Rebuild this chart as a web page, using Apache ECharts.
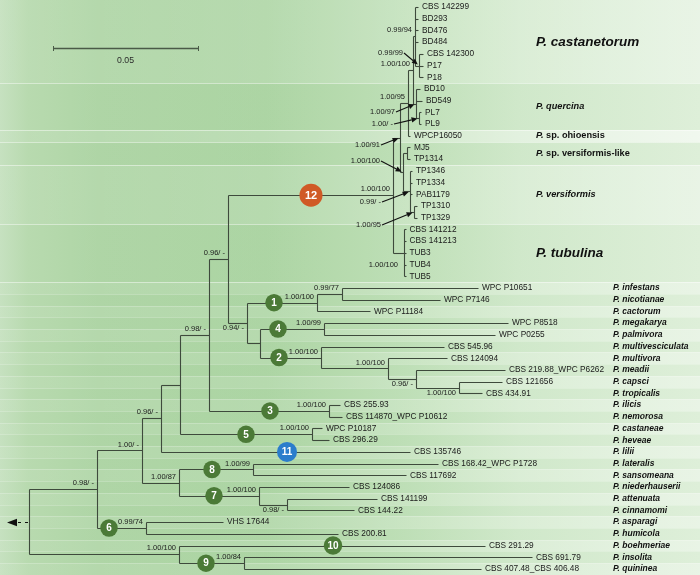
<!DOCTYPE html>
<html><head><meta charset="utf-8">
<script src="https://cdn.jsdelivr.net/npm/echarts@6/dist/echarts.min.js"></script>
<style>html,body{margin:0;padding:0;background:#fff}#c{width:700px;height:575px}</style>
</head><body><div id="c"></div>
<script>
// ---------------- DATA ----------------
const leafNames = ['CBS 142299','BD293','BD476','BD484','CBS 142300','P17','P18','BD10','BD549','PL7','PL9','WPCP16050','MJ5','TP1314','TP1346','TP1334','PAB1179','TP1310','TP1329','CBS 141212','CBS 141213','TUB3','TUB4','TUB5','WPC P10651','WPC P7146','WPC P11184','WPC P8518','WPC P0255','CBS 545.96','CBS 124094','CBS 219.88_WPC P6262','CBS 121656','CBS 434.91','CBS 255.93','CBS 114870_WPC P10612','WPC P10187','CBS 296.29','CBS 135746','CBS 168.42_WPC P1728','CBS 117692','CBS 124086','CBS 141199','CBS 144.22','VHS 17644','CBS 200.81','CBS 291.29','CBS 691.79','CBS 407.48_CBS 406.48'];
const leafParents = ['P','P','P','P','R','R','R','U','U','T','T','W','X','X','Y','Y','Y','Z','Z','Tub','Tub','Tub','Tub','Tub','N1a','N1a','N1','N4','N4','N2','N2a','N2b','N2c','N2c','N3','N3','N5','N5','C','N8','N8','N7','N7a','N7a','N6','N6','J','N9','N9'];
const leafDepths = [0.13414,0.13414,0.13414,0.13414,0.13586,0.13586,0.13586,0.13483,0.13552,0.13517,0.13517,0.13138,0.13138,0.13138,0.13207,0.13207,0.13207,0.13379,0.13379,0.12983,0.12983,0.12983,0.12983,0.12983,0.15483,0.14172,0.11759,0.16517,0.16069,0.14310,0.14414,0.16414,0.16310,0.15621,0.10724,0.10793,0.10103,0.10345,0.13138,0.14103,0.13000,0.11034,0.12000,0.11207,0.06690,0.10655,0.15724,0.17345,0.15586];

const nodeIds = ['root','A','J','B','N6','C','I','D','E','N5','F','N3','K','G','M','Tub','W','O','V','P','R','U','T','X','Y','Z','N1','N1a','H','N4','N2','N2a','N2b','N2c','N8','N7','N7a','N9'];
const nodeParents = [null,'root','root','A','A','B','B','C','D','D','E','E','F','F','K','K','M','M','W','V','P','V','U','O','O','Y','G','N1','G','H','H','N2','N2a','N2b','I','I','N7','J'];
const nodeDepths = [0,0.02345,0.05172,0.03897,0.04034,0.04552,0.05172,0.05207,0.06207,0.09759,0.06862,0.10345,0.12552,0.07517,0.12793,0.12931,0.13069,0.12897,0.13241,0.13310,0.13448,0.13345,0.13448,0.13034,0.13138,0.13276,0.09931,0.10793,0.07966,0.10172,0.10069,0.12379,0.13345,0.14828,0.07724,0.07931,0.08897,0.07414];

const supportNodes = ['A','B','C','E','F','G','N1','N1a','N4','N2','N2a','N2b','N2c','N3','N5','I','N8','N7','N7a','N6','J','N9','K','P','V','W'];
const supportTexts = ['0.98/ -','1.00/ -','0.96/ -','0.98/ -','0.96/ -','0.94/ -','1.00/100','0.99/77','1.00/99','1.00/100','1.00/100','0.96/ -','1.00/100','1.00/100','1.00/100','1.00/87','1.00/99','1.00/100','0.98/ -','0.99/74','1.00/100','1.00/84','1.00/100','0.99/94','1.00/100','1.00/95'];
const supportSide = ['a','a','a','a','a','b','a','a','a','a','a','b','b','a','a','a','a','a','b','a','a','a','a','a','a','a'];

const arrowNodes = ['R','U','T','M','O','Y','Z'];
const arrowTexts = ['0.99/99','1.00/97','1.00/ -','1.00/91','1.00/100','0.99/ -','1.00/95'];
const arrowTailDepths = [0.12931,0.12655,0.12586,0.12138,0.12138,0.12172,0.12172];
const arrowTailRows = [3.93,8.97,9.99,11.79,13.15,16.66,18.62];

const freeTexts = ['1.00/100'];
const freeDepths = [0.12724];
const freeRows = [22.04];

const cladeLabels = ['1','2','3','4','5','6','7','8','9','10','11','12'];
const cladeBranches = ['N1','N2','N3','N4','N5','N6','N7','N8','N9','CBS 291.29','CBS 135746','K'];
const cladeDepths = [0.08448,0.08621,0.08310,0.08586,0.07483,0.02759,0.06379,0.06310,0.06103,0.10483,0.08897,0.09724];

const speciesRows = [24,25,26,27,28,29,30,31,32,33,34,35,36,37,38,39,40,41,42,43,44,45,46,47,48];
const speciesNames = ['P. infestans','P. nicotianae','P. cactorum','P. megakarya','P. palmivora','P. multivesciculata','P. multivora','P. meadii','P. capsci','P. tropicalis','P. ilicis','P. nemorosa','P. castaneae','P. heveae','P. lilii','P. lateralis','P. sansomeana','P. niederhauserii','P. attenuata','P. cinnamomi','P. asparagi','P. humicola','P. boehmeriae','P. insolita','P. quininea'];

const groupEpithets = ['castanetorum','quercina','sp. ohioensis','sp. versiformis-like','versiformis','tubulina'];
const groupFirstRows = [0,7,11,12,14,19];
const groupLastRows = [6,10,11,13,18,23];

const bandFirstRows = [0,7,11,12,14,19,24,25,26,27,28,29,30,31,32,33,34,35,36,37,38,39,40,41,42,43,44,45,46,47,48];
const bandLastRows  = [6,10,11,13,18,23,24,25,26,27,28,29,30,31,32,33,34,35,36,37,38,39,40,41,42,43,44,45,46,47,48];
const bandTones     = [1,0,2,0,1,0,1,0,1,0,1,0,1,0,1,0,1,0,1,0,1,0,1,0,1,0,1,0,1,0,1];

const scaleBarLength = 0.05;
const scaleBarLabel = '0.05';

// ---------------- TREE LAYOUT ----------------
const FONT = '"Liberation Sans", Arial, Helvetica, sans-serif';
const nodeIndex = {}; nodeIds.forEach((id,i)=>nodeIndex[id]=i);
const leafIndex = {}; leafNames.forEach((n,i)=>leafIndex[n]=i);
const kids = {}; nodeIds.forEach(id=>kids[id]=[]);
leafNames.forEach((n,i)=>kids[leafParents[i]].push(i));
nodeIds.forEach((id,i)=>{ if(nodeParents[i]) kids[nodeParents[i]].push(id); });
const rowMemo = {};
function rowOf(c){
  if(typeof c==='number') return c;
  if(leafIndex[c]!==undefined && nodeIndex[c]===undefined) return leafIndex[c];
  if(rowMemo[c]!==undefined) return rowMemo[c];
  const rs = kids[c].map(rowOf);
  return rowMemo[c] = (Math.min(...rs)+Math.max(...rs))/2;
}
function depthOf(c){
  if(typeof c==='number') return leafDepths[c];
  if(nodeIndex[c]!==undefined) return nodeDepths[nodeIndex[c]];
  return leafDepths[leafIndex[c]];
}
const segs = [];
leafNames.forEach((n,i)=>segs.push([depthOf(leafParents[i]), i, leafDepths[i], i]));
nodeIds.forEach((id,i)=>{
  const p = nodeParents[i];
  if(p) segs.push([depthOf(p), rowOf(id), nodeDepths[i], rowOf(id)]);
  const rs = kids[id].map(rowOf);
  segs.push([nodeDepths[i], Math.min(...rs), nodeDepths[i], Math.max(...rs)]);
});

// text labels
const texts = [];
leafNames.forEach((n,i)=>texts.push({d:leafDepths[i], r:i, text:n, dx:4, dy:0, align:'left', font:'8.3px '+FONT, fill:'#1b1b1b'}));
speciesRows.forEach((r,i)=>texts.push({d:0.20138, r:r, text:speciesNames[i], dx:0, dy:0, align:'left', font:'italic bold 8.5px '+FONT, fill:'#111'}));
supportNodes.forEach((id,i)=>{
  const below = supportSide[i]==='b';
  texts.push({d:depthOf(id), r:rowOf(id), text:supportTexts[i], dx:-3, dy: below?5.5:-6, align:'right', font:'7.5px '+FONT, fill:'#1b1b1b'});
});
arrowNodes.forEach((id,i)=>texts.push({d:arrowTailDepths[i], r:arrowTailRows[i], text:arrowTexts[i], dx:-1, dy:0, align:'right', font:'7.5px '+FONT, fill:'#1b1b1b'}));
freeTexts.forEach((t,i)=>texts.push({d:freeDepths[i], r:freeRows[i], text:t, dx:0, dy:0, align:'right', font:'7.5px '+FONT, fill:'#1b1b1b'}));
groupEpithets.forEach((g,i)=>{
  const big = (g==='castanetorum'||g==='tubulina');
  const r = (groupFirstRows[i]+groupLastRows[i])/2;
  const size = big?13.5:9.2;
  let txt;
  if(g.startsWith('sp. ')) txt = '{i|P.} {n|'+g+'}';
  else txt = '{i|P. '+g+'}';
  const rich = {i:{fontStyle:'italic',fontWeight:'bold',fontSize:size,fontFamily:FONT,fill:'#111'}, n:{fontStyle:'normal',fontWeight:'bold',fontSize:size,fontFamily:FONT,fill:'#111'}};
  texts.push({d:0.17483, r:r, text:txt, rich:rich, dx:0, dy:0, align:'left', font:'bold '+size+'px '+FONT, fill:'#111'});
});

const circleColor = l => l==='12' ? '#d05a26' : (l==='11' ? '#2b7dcc' : '#4b7a37');
const circleSize = l => l==='12' ? 23 : (l==='11' ? 20 : (l==='10'?18.5:17.5));

const chart = echarts.init(document.getElementById('c'), null, {renderer:'canvas'});
const rnd = v => Math.round(v)+0.5;

const option = {
  animation:false,
  backgroundColor:'#ffffff',
  grid:{left:0,right:0,top:0,bottom:0},
  xAxis:{type:'value', min:-0.01, max:0.23138, show:false},
  yAxis:{type:'value', min:-0.5979, max:48.514, inverse:true, show:false},
  graphic:[{type:'rect', z:-100, silent:true, shape:{x:0,y:0,width:700,height:575},
    style:{fill:new echarts.graphic.LinearGradient(0,0,1,0,[
      {offset:0,color:'#c6e1c0'},{offset:0.04,color:'#b8daaf'},{offset:0.14,color:'#aed5a5'},
      {offset:0.38,color:'#abd4a2'},{offset:0.58,color:'#bcdeb4'},{offset:0.74,color:'#cde7c7'},
      {offset:1,color:'#dbeed6'}])}}],
  series:[
    { // row bands
      type:'custom', z:1, silent:true,
      data: bandFirstRows.map((f,i)=>[f, bandLastRows[i], bandTones[i]]),
      encode:{y:[0,1]},
      renderItem:(params, api)=>{
        const f=api.value(0), l=api.value(1), t=api.value(2);
        const p0=api.coord([-0.01, f-0.5]), p1=api.coord([0.23138, l+0.5]);
        const y0 = f===0 ? 0 : Math.round(p0[1]);
        const y1 = Math.round(p1[1]);
        const a0 = t===2?0.08:(t===1?0.05:0.0), a1 = t===2?0.6:(t===1?0.38:0.08);
        const lineA = f < 24 ? 0.45 : 0.22;
        return {type:'group', children:[
          {type:'rect', shape:{x:0,y:y0,width:700,height:y1-y0},
            style:{fill:new echarts.graphic.LinearGradient(0,0,1,0,[
              {offset:0,color:'rgba(255,255,255,'+a0+')'},{offset:0.45,color:'rgba(255,255,255,'+(a0+(a1-a0)*0.3)+')'},{offset:1,color:'rgba(255,255,255,'+a1+')'}])}},
          {type:'line', shape:{x1:0,y1:y1+0.5,x2:700,y2:y1+0.5}, style:{stroke:'rgba(255,255,255,'+lineA+')', lineWidth:1}}
        ]};
      }
    },
    { // branches
      type:'custom', z:3, silent:true,
      data: segs, encode:{x:[0,2], y:[1,3]},
      renderItem:(params, api)=>{
        const a=api.coord([api.value(0),api.value(1)]), b=api.coord([api.value(2),api.value(3)]);
        return {type:'line', shape:{x1:rnd(a[0]),y1:rnd(a[1]),x2:rnd(b[0]),y2:rnd(b[1])},
          style:{stroke:'#3e4a3c', lineWidth:1.1}};
      }
    },
    { // root arrow + scale bar
      type:'custom', z:3, silent:true,
      data:[[0, rowOf('root')]], encode:{x:0,y:1},
      renderItem:(params, api)=>{
        const p=api.coord([api.value(0), api.value(1)]);
        const y=rnd(p[1]);
        const s0=api.coord([0.00828, 3.5]), s1=api.coord([0.00828+scaleBarLength, 3.5]);
        const sy=rnd(s0[1]);
        return {type:'group', children:[
          {type:'line', shape:{x1:p[0]-1,y1:y,x2:p[0]-11,y2:y}, style:{stroke:'#111',lineWidth:1.2,lineDash:[3,4]}},
          {type:'polygon', shape:{points:[[p[0]-22,y],[p[0]-12,y-3.8],[p[0]-12,y+3.8]]}, style:{fill:'#111'}},
          {type:'line', shape:{x1:rnd(s0[0]),y1:sy,x2:rnd(s1[0]),y2:sy}, style:{stroke:'#4a5a47',lineWidth:1.3}},
          {type:'line', shape:{x1:rnd(s0[0]),y1:sy-2.5,x2:rnd(s0[0]),y2:sy+2.5}, style:{stroke:'#4a5a47',lineWidth:1}},
          {type:'line', shape:{x1:rnd(s1[0]),y1:sy-2.5,x2:rnd(s1[0]),y2:sy+2.5}, style:{stroke:'#4a5a47',lineWidth:1}},
          {type:'text', x:(s0[0]+s1[0])/2, y:sy+12, style:{text:scaleBarLabel, font:'8.7px '+FONT, fill:'#2a2a2a', textAlign:'center', textVerticalAlign:'middle'}}
        ]};
      }
    },
    { // arrows
      type:'custom', z:4, silent:true,
      data: arrowNodes.map((id,i)=>[arrowTailDepths[i], arrowTailRows[i], depthOf(id), rowOf(id)]),
      encode:{x:[0,2], y:[1,3]},
      renderItem:(params, api)=>{
        const t=api.coord([api.value(0),api.value(1)]), h0=api.coord([api.value(2),api.value(3)]);
        let dx=h0[0]-t[0], dy=h0[1]-t[1]; const L=Math.sqrt(dx*dx+dy*dy); dx/=L; dy/=L;
        const h=[h0[0]-dx*1.5, h0[1]-dy*1.5];
        const b=[h[0]-dx*6, h[1]-dy*6];
        const nx=-dy, ny=dx;
        return {type:'group', children:[
          {type:'line', shape:{x1:t[0],y1:t[1],x2:b[0],y2:b[1]}, style:{stroke:'#111',lineWidth:1.1}},
          {type:'polygon', shape:{points:[h,[b[0]+nx*2.6,b[1]+ny*2.6],[b[0]-nx*2.6,b[1]-ny*2.6]]}, style:{fill:'#111'}}
        ]};
      }
    },
    { // texts
      type:'custom', z:5, silent:true,
      data: texts.map((o,i)=>[o.d,o.r,i]), encode:{x:0,y:1},
      renderItem:(params, api)=>{
        const o=texts[api.value(2)];
        const p=api.coord([api.value(0),api.value(1)]);
        const st={text:o.text, font:o.font, fill:o.fill, textAlign:o.align, textVerticalAlign:'middle'};
        if(o.rich) st.rich=o.rich;
        return {type:'text', x:p[0]+o.dx, y:p[1]+o.dy, style:st};
      }
    },
    { // clade circles
      type:'custom', z:6, silent:true,
      data: cladeLabels.map((l,i)=>[cladeDepths[i], rowOf(cladeBranches[i]), i]), encode:{x:0,y:1},
      renderItem:(params, api)=>{
        const l=cladeLabels[api.value(2)];
        const p=api.coord([api.value(0),api.value(1)]);
        const r=circleSize(l)/2;
        return {type:'group', children:[
          {type:'circle', shape:{cx:p[0],cy:p[1],r:r}, style:{fill:circleColor(l)}},
          {type:'text', x:p[0], y:p[1]+0.5, style:{text:l, font:'bold '+(l==='12'?11:10)+'px '+FONT, fill:'#fff', textAlign:'center', textVerticalAlign:'middle'}}
        ]};
      }
    }
  ]
};
chart.setOption(option);
</script></body></html>
